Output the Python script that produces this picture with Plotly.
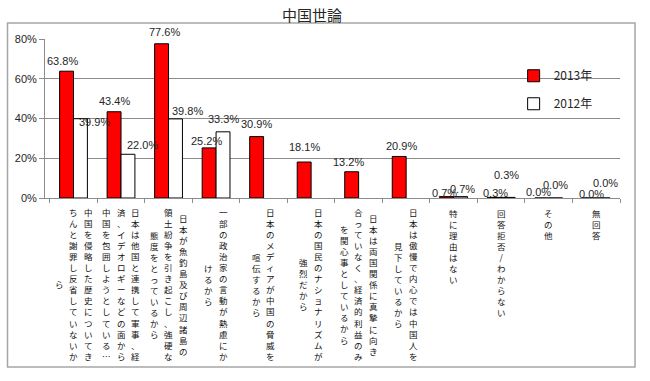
import plotly.graph_objects as go

# ---------------- data ----------------
title_text = "中国世論"
categories = [
    "中国を侵略した歴史についてき\nちんと謝罪し反省していないか\nら",
    "日本は他国と連携して軍事、経\n済、イデオロギーなどの面から\n中国を包囲しようとしている…",
    "日本が魚釣島及び周辺諸島の\n領土紛争を引き起こし、強硬な\n態度をとっているから",
    "一部の政治家の言動が熱慮にか\nけるから",
    "日本のメディアが中国の脅威を\n喧伝するから",
    "日本の国民のナショナリズムが\n強烈だから",
    "日本は両国関係に真摯に向き\n合っていなく、経済的利益のみ\nを関心事としているから",
    "日本は傲慢で内心では中国人を\n見下しているから",
    "特に理由はない",
    "回答拒否/わからない",
    "その他",
    "無回答",
]
series_names = ["2013年", "2012年"]
values_2013 = [63.8, 43.4, 77.6, 25.2, 30.9, 18.1, 13.2, 20.9, 0.7, 0.3, 0.0, 0.0]
values_2012 = [39.9, 22.0, 39.8, 33.3, None, None, None, None, 0.7, 0.3, 0.0, 0.0]
y_ticks = [0, 20, 40, 60, 80]

# ---------------- style ----------------
# label offsets (pixels) of the hand-placed value labels: (dx, dy_up)
lab_off_2013 = [(-4, 10), (0, 10.6), (3, 12), (-3, 7), (0, 12.7), (0, 15),
                (-3, 10), (2, 10), (-2, 4), (1, 4), (-3, 6), (2, 4)]
lab_off_2012 = [(13.5, -3), (14, 9), (12, 8), (0, 13), None, None,
                None, None, (2, 8), (-2, 22), (0, 13), (2, 15)]
BAR_HALF = 7          # distance from slot centre to each bar centre (px)
COL_STEP = 14.5       # spacing between vertical text columns (px)
CJK_SIZE = 8.5
PITCH = CJK_SIZE * 1.3
LABEL_TOP = 9         # gap below axis to the category text (px)
GRID = "#8c8c8c"
TXT = "#262626"
NUM_FONT = dict(family="Liberation Sans, Arial, sans-serif", size=11, color=TXT)
CJK_FONT = "Noto Sans CJK JP, Noto Sans CJK SC, sans-serif"

x_names = [c.replace("\n", "") for c in categories]

fig = go.Figure()
fig.add_trace(go.Bar(
    x=x_names, y=values_2013, name=series_names[0], legendgroup="a",
    marker=dict(color="#ff0000", line=dict(color="#000000", width=1)),
))
fig.add_trace(go.Bar(
    x=x_names, y=values_2012, name=series_names[1], legendgroup="b",
    marker=dict(color="#ffffff", line=dict(color="#000000", width=1)),
))

ann = []
# value labels
for vals, offs, side in ((values_2013, lab_off_2013, -1), (values_2012, lab_off_2012, 1)):
    for name, v, off in zip(x_names, vals, offs):
        if v is None or off is None:
            continue
        ann.append(dict(
            x=name, y=v, xref="x", yref="y", text=f"{v:.1f}%", showarrow=False,
            xanchor="center", yanchor="middle",
            xshift=side * BAR_HALF + off[0], yshift=off[1],
            font=NUM_FONT,
        ))

# vertical (stacked) category labels, columns flow right to left
for name, cat in zip(x_names, categories):
    cols = cat.split("\n")
    n = len(cols)
    maxlen = max(len(c) for c in cols)
    for k, col in enumerate(cols):
        ann.append(dict(
            x=name, y=0, xref="x", yref="paper",
            text="<br>".join(list(col)), showarrow=False,
            xanchor="center", yanchor="middle",
            xshift=((n - 1) / 2 - k) * COL_STEP,
            yshift=-(LABEL_TOP + maxlen * PITCH / 2),
            font=dict(family=CJK_FONT, size=CJK_SIZE, color="#111111"),
        ))

fig.update_layout(
    width=650, height=381,
    margin=dict(l=45, r=30, t=39, b=183),
    paper_bgcolor="white", plot_bgcolor="white",
    title=dict(text=title_text, x=0.48, xanchor="center", y=0.958, yanchor="middle",
               font=dict(family=CJK_FONT, size=15, color=TXT)),
    barmode="group", bargap=0.415, bargroupgap=0,
    showlegend=True,
    legend=dict(x=0.815, y=0.86, xanchor="left", yanchor="top",
                bgcolor="rgba(0,0,0,0)", traceorder="grouped", tracegroupgap=9,
                font=dict(family=CJK_FONT, size=12, color=TXT)),
    annotations=ann,
    shapes=[dict(type="rect", xref="paper", yref="paper",
                 x0=-0.0652, x1=1.0261, y0=-1.0629, y1=1.1006,
                 line=dict(color="#a6a6a6", width=1.5), layer="below")],
)
fig.update_xaxes(
    type="category", showticklabels=False, showgrid=False,
    showline=True, linecolor=GRID, linewidth=1,
    ticks="outside", tickson="boundaries", ticklen=4, tickcolor=GRID,
)
fig.update_yaxes(
    range=[0, 80], tickvals=y_ticks, ticktext=[f"{t}%" for t in y_ticks],
    showgrid=True, gridcolor=GRID, gridwidth=1,
    showline=True, linecolor=GRID, linewidth=1,
    ticks="outside", ticklen=5, tickcolor=GRID,
    tickfont=NUM_FONT, zeroline=False,
)

fig.write_html("out.html", config={"displayModeBar": False},
               post_script="document.body.style.margin='0px';")
